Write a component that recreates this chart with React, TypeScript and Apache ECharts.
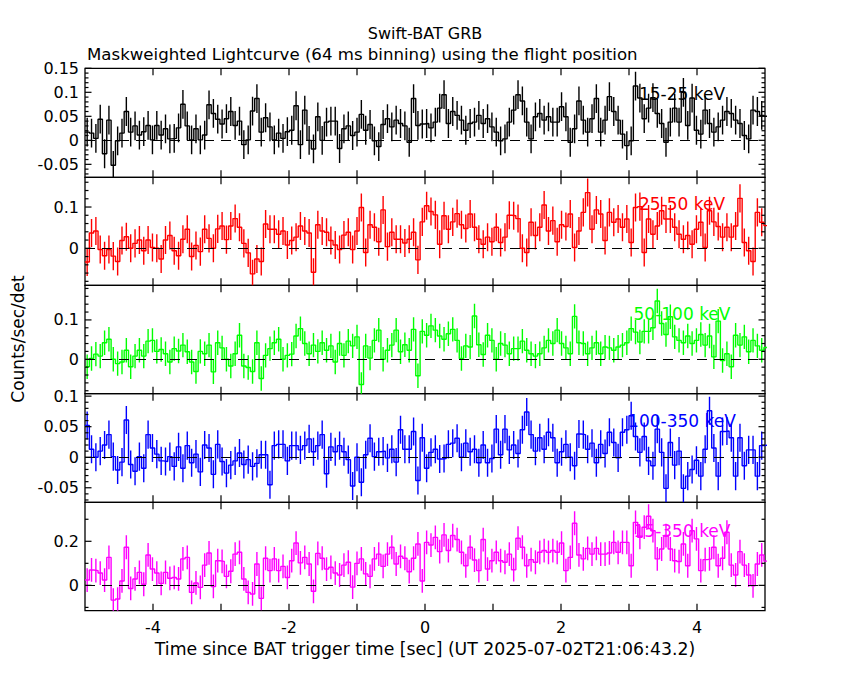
import React, { useEffect, useRef } from "react";
import * as echarts from "echarts";

// 64 ms bins starting at -5 s
const BIN_START = -5;
const BIN_WIDTH = 0.064;

const RATE_15_25 = [
  0.017, 0.015, 0.004, 0.044, -0.028, 0.042, -0.052, -0.001, 0.015, 0.06,
  0.017, 0.03, 0.011, 0.018, 0.031, 0.001, 0.031, 0.011, 0.024, 0.003,
  0.004, 0.026, 0.075, 0.03, 0.001, 0.024, 0.001, 0.011, 0.074, 0.056,
  0.044, 0.034, 0.045, 0.06, 0.031, 0.04, -0.009, 0.001, 0.061, 0.087,
  0.017, 0.047, 0.028, 0.001, 0.015, 0.004, 0.018, 0.021, 0.072, -0.009,
  0.063, 0, -0.018, 0.049, 0, 0.038, 0.04, 0.04, -0.017, 0.024,
  0.03, 0.01, 0.017, 0.054, 0.021, 0.033, -0.001, -0.013, 0.033, 0.045,
  0.028, 0.042, 0.035, 0.03, -0.004, 0.087, 0.031, 0.034,
  0.035, 0.026, 0.038, 0.067, 0.095, 0.035, 0.06, 0.052, 0.042, 0.021,
  0.035, 0.038, 0.052, 0.035, 0.045, 0.028, 0.017, -0.001, 0.003, 0.038,
  0.063, 0.095, 0.082, 0.038, 0.003, 0.049, 0.056, 0.042, 0.049, 0.038,
  0.038, 0.07, 0.049, -0.004, 0.024, 0.082, 0.042, 0.017, 0.045, 0.087,
  0.017, 0.042, 0.091, 0.06, 0.042, 0.013, -0.011, -0.001, 0.113, 0.088,
  0.045, 0.067, 0.089, 0.056, 0.035, -0.004, 0.038, 0.067, 0.038, 0.1,
  0.031, 0.088, 0.021, 0.013, 0.063, 0.035, 0.017, 0.028, 0.042, 0.06,
  0.056, 0.042, 0.035, 0.01, 0.003, 0.063, 0.06, 0.052, 0.05,
];

const RATE_25_50 = [
  -0.033, 0.037, 0.042, -0.003, -0.018, -0.003, -0.019, -0.032, 0.019, 0.028,
  0, 0.012, 0.02, -0.006, 0.02, 0.002, 0, -0.026, 0.02, 0.031,
  -0.006, -0.018, 0.022, 0.046, -0.02, 0.007, -0.008, 0.046, 0.024, 0,
  0.047, 0.054, 0.021, 0.054, 0.072, 0.051, 0.012, -0.011, -0.062, -0.026,
  -0.032, 0.059, 0.046, 0.046, 0.034, 0.042, 0.008, 0.019, 0.027, 0.054,
  0.042, 0.037, -0.058, 0.057, 0.042, 0.039, 0.019, 0.008, -0.003, 0.032,
  0.039, -0.003, 0.042, 0.099, -0.01, 0.057, 0.051, 0.016, 0.093, 0.004,
  0.039, 0.022, 0.022, 0.013, 0.022, 0.039, -0.028,
  0.064, 0.103, 0.089, 0.081, 0.01, 0.079, 0.046, 0.064, 0.084, 0.057,
  0.048, 0.083, 0.051, 0.022, 0.01, 0.027, 0.016, 0.051, 0.014, 0.027,
  0.08, 0.079, 0.072, 0, -0.01, 0.063, 0.031, 0.051, 0.105, 0.042,
  0.067, 0.016, 0.057, 0.053, 0.083, 0.002, 0.042, 0.087, 0.135, 0.046,
  0.093, 0.083, 0.019, 0.087, 0.063, 0.071, 0.051, 0.071, 0.014, 0.099,
  0.101, -0.01, 0.071, 0.034, 0.054, 0.091, 0.071, 0.071, 0.051, 0.034,
  0.022, 0.031, 0.01, 0.046, 0.063, 0.002, 0.091, 0.064, 0.053, 0.027,
  0.051, 0.027, 0.054, 0.121, 0.014, -0.006, -0.032, 0.087, 0.063, 0.055,
];

const RATE_50_100 = [
  -0.019, 0.002, 0.013, 0.008, 0.042, 0.051, 0, -0.011, -0.007, 0.023,
  -0.019, 0.008, 0.023, 0.008, 0.046, 0.048, 0.02, 0.025, 0.014, -0.007,
  0.027, 0.021, 0.036, 0.019, -0.007, -0.031, 0.02, 0.014, 0.036, -0.032,
  0.042, 0.029, 0, -0.017, 0.014, 0.061, -0.017, -0.021, -0.031, 0.042,
  -0.049, 0.01, 0.027, 0.042, 0.051, 0, 0.01, 0.013, 0.059, 0.078,
  0.04, 0.014, 0.036, 0.02, 0.042, 0.023, 0.034, -0.007, 0.04, 0.01,
  0.046, 0.034, 0.057, -0.064, 0.034, 0.003, 0.048, 0.074, 0, 0.023,
  0.036, 0.074, 0.019, 0.037, 0.023, 0.076, -0.042, 0.071,
  0.061, 0.085, 0.074, 0.059, 0.051, 0.065, 0.076, 0.048, 0.002, 0.034,
  0.031, 0.11, 0.037, 0.012, 0.061, 0.048, 0, 0.04, 0.036, 0.014,
  0.027, 0.027, 0.046, 0.023, 0.014, 0.008, 0.014, 0.029, 0.048, 0.04,
  0.074, 0.04, 0.029, 0.014, 0.109, 0.042, 0.04, 0.014, 0.029, 0.042,
  0.014, 0.031, 0.029, 0.023, 0.031, 0.036, 0.042, 0.078, 0.069, 0.044,
  0.071, 0.071, 0.08, 0.148, 0.091, 0.063, 0.108, 0.057, 0.048, 0.042,
  0.059, 0.04, 0.048, 0.063, 0.036, 0.059, 0.006, 0.097, -0.003, 0.014,
  -0.019, 0.061, 0.036, 0.057, 0.019, 0.048, 0.034, 0.023, 0.03,
];

const RATE_100_350 = [
  0.052, 0.013, 0, 0.01, 0.02, 0.037, 0.001, -0.021, -0.008, 0.061,
  -0.012, -0.023, 0.001, -0.018, 0.037, 0.015, 0.005, -0.006, -0.007, 0.001,
  -0.015, 0.017, -0.018, 0.019, -0.009, 0.005, -0.024, 0.02, 0.015, -0.028,
  0.021, -0.007, -0.026, -0.013, -0.006, 0.007, -0.012, -0.004, -0.015, -0.01,
  0.004, 0.004, -0.045, 0.019, 0.021, 0.021, -0.006, 0.019, 0.019, 0.012,
  0.019, 0.03, 0.009, 0.019, 0.037, -0.027, 0.017, 0.009, 0.019, 0.009,
  -0.004, -0.047, 0, -0.041, 0.004, 0.031, 0.001, 0.009, 0.01, -0.001,
  0.013, -0.008, 0.045, 0.013, 0.013, 0.042, -0.038,
  0.032, -0.018, 0.008, 0.013, -0.003, -0.002, 0.021, 0.023, 0.031, 0,
  0.023, 0.009, 0.013, -0.009, 0.02, -0.009, -0.002, 0.046, 0.004, 0.046,
  0.012, 0.02, 0.006, 0.045, 0.074, 0.037, 0.01, 0.032, 0.013, 0.041,
  0.032, -0.009, 0.009, 0.021, 0, -0.014, 0.038, 0.037, 0.013, 0.023,
  -0.009, 0.021, 0.006, 0.041, 0.024, -0.001, 0.041, 0.045, 0.068, 0.034,
  0.008, 0.034, -0.006, -0.014, 0.046, 0.008, -0.051, 0.024, -0.013, 0.01,
  -0.051, -0.031, -0.02, -0.005, -0.031, 0.013, 0.076, 0.015, -0.031, 0.042,
  0.043, 0.032, -0.031, 0.032, -0.014, 0.012, 0.012, -0.031, 0.019, 0.02,
];

const RATE_15_350 = [
  0.024, 0.07, 0.067, 0.056, 0.024, 0.127, -0.067, -0.062, 0.02, 0.173,
  -0.014, 0.029, 0.059, 0.005, 0.138, 0.074, 0.056, 0.009, 0.059, 0.032,
  0.036, 0.029, 0.12, 0.127, -0.032, 0.011, -0.009, 0.092, 0.147, -0.005,
  0.112, 0.109, 0.041, 0.064, 0.142, 0.15, 0.029, -0.032, -0.039, 0.097,
  -0.059, 0.123, 0.067, 0.12, 0.067, 0.086, 0.036, 0.112, 0.192, 0.102,
  0.127, 0.097, -0.027, 0.145, 0.123, 0.074, 0.082, 0.056, 0.047, 0.092,
  0.105, -0.008, 0.1, 0.12, 0.052, 0.041, 0.12, 0.142, 0.086, 0.142,
  0.173, 0.097, 0.132, 0.123, 0.062, 0.123, 0.188, 0.02, 0.195,
  0.183, 0.218, 0.153, 0.229, 0.158, 0.226, 0.208, 0.15, 0.089, 0.173,
  0.115, 0.067, 0.208, 0.074, 0.112, 0.15, 0.112, 0.105, 0.142, 0.071,
  0.214, 0.173, 0.089, 0.117, 0.105, 0.15, 0.158, 0.15, 0.158, 0.15,
  0.192, 0.067, 0.127, 0.282, 0.138, 0.12, 0.168, 0.142, 0.168, 0.142,
  0.142, 0.147, 0.195, 0.15, 0.195, 0.195, 0.089, 0.286, 0.218, 0.264,
  0.314, 0.248, 0.12, 0.165, 0.226, 0.165, 0.112, 0.108, 0.188, 0.089,
  0.248, 0.211, 0.067, 0.117, 0.12, 0.173, 0.089, 0.123, 0.241, 0.092,
  0.047, 0.153, 0.092, 0.047, -0.002, 0.097, 0.138, 0.11,
];

const RATES = [RATE_15_25, RATE_25_50, RATE_50_100, RATE_100_350, RATE_15_350];
const ERRORS = [0.03, 0.034, 0.031, 0.023, 0.054];
const BANDS = ["15-25 keV", "25-50 keV", "50-100 keV", "100-350 keV", "15-350 keV"];
const COLORS = ["#000000", "#ff0000", "#00ff00", "#0000ff", "#ff00ff"];

const Y_RANGES = [
  [-0.077, 0.15],
  [-0.0896, 0.172],
  [-0.0875, 0.188],
  [-0.0738, 0.104],
  [-0.115, 0.377],
];
const Y_LABELS = [
  [-0.05, 0, 0.05, 0.1, 0.15],
  [0, 0.1],
  [0, 0.1],
  [-0.05, 0, 0.05, 0.1],
  [0, 0.2],
];
const Y_MINOR_STEP = [0.01, 0.02, 0.02, 0.01, 0.1];
const X_TICKS = [-4, -3, -2, -1, 0, 1, 2, 3, 4];
const X_LABELS = [-4, -2, 0, 2, 4];

const TITLE = "Swift-BAT GRB";
const SUBTITLE = "Maskweighted Lightcurve (64 ms binning) using the flight position";
const X_TITLE = "Time since BAT trigger time [sec] (UT 2025-07-02T21:06:43.2)";
const Y_TITLE = "Counts/sec/det";

// layout (pixels)
const GRID_TOPS = [68.3, 177.3, 285.3, 393.7, 502.3];
const GRID_BOTTOMS = [177.3, 285.3, 393.7, 502.3, 610.7];
const GRID_LEFT = 85;
const GRID_RIGHT = 85;
const BAND_LABEL_X = 682;
const BAND_LABEL_Y = [94, 204, 314, 421, 531];
const FONT = '"DejaVu Sans", "Noto Sans", sans-serif';

function fmt(v: number): string {
  if (Math.abs(v) < 1e-9) return "0";
  return String(Math.round(v * 1000) / 1000);
}

function buildOption() {
  const grids: any[] = [];
  const xAxes: any[] = [];
  const yAxes: any[] = [];
  const series: any[] = [];

  for (let k = 0; k < 5; k++) {
    grids.push({
      left: GRID_LEFT,
      right: GRID_RIGHT,
      top: GRID_TOPS[k],
      height: GRID_BOTTOMS[k] - GRID_TOPS[k],
      show: true,
      borderColor: "#000",
      borderWidth: 1.3,
      backgroundColor: "transparent",
      containLabel: false,
    });
    xAxes.push({ type: "value", gridIndex: k, min: -5, max: 5, show: false });
    yAxes.push({ type: "value", gridIndex: k, min: Y_RANGES[k][0], max: Y_RANGES[k][1], show: false });

    const rates = RATES[k];
    const color = COLORS[k];
    const err = ERRORS[k];

    const stepData = rates.map((v, i) => [BIN_START + i * BIN_WIDTH, v]);
    stepData.push([BIN_START + rates.length * BIN_WIDTH, rates[rates.length - 1]]);

    series.push({
      type: "line",
      xAxisIndex: k,
      yAxisIndex: k,
      step: "end",
      data: stepData,
      showSymbol: false,
      symbol: "none",
      silent: true,
      clip: true,
      z: 3,
      lineStyle: { color, width: 1.4 },
      markLine: {
        silent: true,
        symbol: ["none", "none"],
        label: { show: false },
        lineStyle: { color: "#000", type: [10, 7], width: 1.2 },
        data: [{ yAxis: 0 }],
      },
    });

    series.push({
      type: "custom",
      xAxisIndex: k,
      yAxisIndex: k,
      silent: true,
      clip: true,
      z: 3,
      data: rates.map((v, i) => [BIN_START + (i + 0.5) * BIN_WIDTH, v, err]),
      encode: { x: 0, y: 1 },
      renderItem: (_p: any, api: any) => {
        const x = api.value(0);
        const v = api.value(1);
        const e = api.value(2);
        if (x > 5) return null;
        const a = api.coord([x, v - e]);
        const b = api.coord([x, v + e]);
        return {
          type: "line",
          shape: { x1: a[0], y1: a[1], x2: b[0], y2: b[1] },
          style: { stroke: color, lineWidth: 1.4 },
        };
      },
    });

    // frame ticks and tick labels, placed through the axes' scales
    series.push({
      type: "custom",
      xAxisIndex: k,
      yAxisIndex: k,
      silent: true,
      clip: false,
      z: 10,
      data: [[0, 0]],
      renderItem: (_p: any, api: any) => {
        const [ymin, ymax] = Y_RANGES[k];
        const L = api.coord([-5, 0])[0];
        const R = api.coord([5, 0])[0];
        const T = api.coord([0, ymax])[1];
        const B = api.coord([0, ymin])[1];
        const children: any[] = [];
        const ln = (x1: number, y1: number, x2: number, y2: number) => ({
          type: "line",
          shape: { x1, y1, x2, y2 },
          style: { stroke: "#000", lineWidth: 1.2 },
        });
        const step = Y_MINOR_STEP[k];
        const n0 = Math.ceil(ymin / step - 1e-6);
        const n1 = Math.floor(ymax / step + 1e-6);
        for (let n = n0; n <= n1; n++) {
          const v = n * step;
          const isMajor = Y_LABELS[k].some((m) => Math.abs(m - v) < 1e-6);
          const len = isMajor ? 6.5 : 3.5;
          const y = api.coord([0, v])[1];
          children.push(ln(L, y, L + len, y));
          children.push(ln(R, y, R - len, y));
        }
        for (const v of Y_LABELS[k]) {
          const y = api.coord([0, v])[1];
          children.push({
            type: "text",
            style: {
              text: fmt(v),
              x: 79,
              y,
              textAlign: "right",
              textVerticalAlign: "middle",
              font: `16px ${FONT}`,
              fill: "#000",
            },
          });
        }
        for (const t of X_TICKS) {
          const x = api.coord([t, 0])[0];
          children.push(ln(x, B, x, B - 7));
          children.push(ln(x, T, x, T + 7));
        }
        if (k === 4) {
          for (const t of X_LABELS) {
            const x = api.coord([t, 0])[0];
            children.push({
              type: "text",
              style: {
                text: fmt(t),
                x,
                y: B + 17,
                textAlign: "center",
                textVerticalAlign: "middle",
                font: `16px ${FONT}`,
                fill: "#000",
              },
            });
          }
        }
        return { type: "group", children };
      },
    });
  }

  const graphic: any[] = [
    {
      type: "text",
      style: { text: TITLE, x: 425, y: 33, textAlign: "center", textVerticalAlign: "middle", font: `16px ${FONT}`, fill: "#000" },
      silent: true,
    },
    {
      type: "text",
      style: { text: SUBTITLE, x: 87, y: 54, textAlign: "left", textVerticalAlign: "middle", font: `16.6px ${FONT}`, fill: "#000" },
      silent: true,
    },
    {
      type: "text",
      style: { text: X_TITLE, x: 425, y: 649, textAlign: "center", textVerticalAlign: "middle", font: `17.3px ${FONT}`, fill: "#000" },
      silent: true,
    },
    {
      type: "text",
      x: 18,
      y: 339,
      rotation: Math.PI / 2,
      style: { text: Y_TITLE, x: 0, y: 0, textAlign: "center", textVerticalAlign: "middle", font: `17px ${FONT}`, fill: "#000" },
      silent: true,
    },
  ];
  for (let k = 0; k < 5; k++) {
    graphic.push({
      type: "text",
      z: 20,
      style: {
        text: BANDS[k],
        x: BAND_LABEL_X,
        y: BAND_LABEL_Y[k],
        textAlign: "center",
        textVerticalAlign: "middle",
        font: `17px ${FONT}`,
        fill: COLORS[k],
      },
      silent: true,
    });
  }

  return {
    animation: false,
    backgroundColor: "#ffffff",
    grid: grids,
    xAxis: xAxes,
    yAxis: yAxes,
    series,
    graphic,
  };
}

export default function App() {
  const ref = useRef<HTMLDivElement>(null);
  useEffect(() => {
    document.body.style.margin = "0";
    if (!ref.current) return;
    const chart = echarts.init(ref.current, undefined, { renderer: "svg" });
    chart.setOption(buildOption() as any);
    return () => {
      chart.dispose();
    };
  }, []);
  return <div ref={ref} style={{ width: 850, height: 680 }} />;
}
